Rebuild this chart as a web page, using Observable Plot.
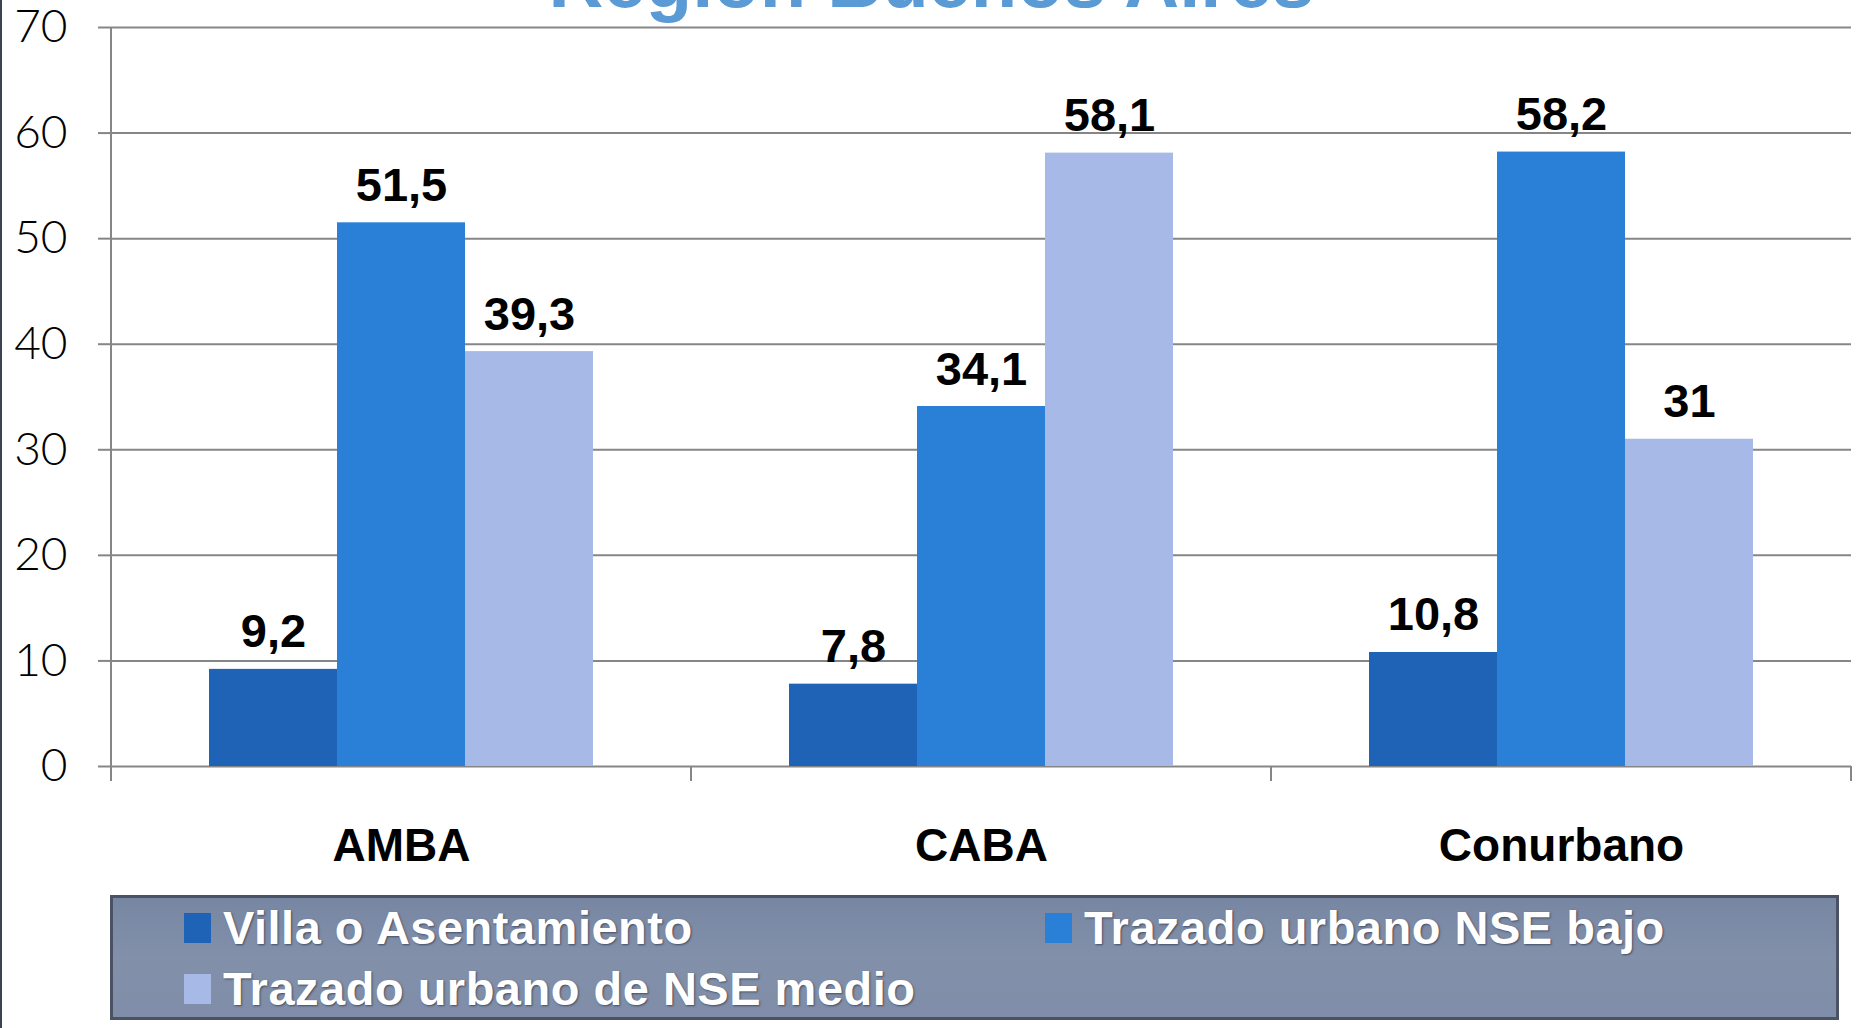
<!DOCTYPE html>
<html>
<head>
<meta charset="utf-8">
<script src="https://cdn.jsdelivr.net/npm/d3@7"></script>
<script src="https://cdn.jsdelivr.net/npm/@observablehq/plot@0.6"></script>
<style>
  html, body { margin: 0; padding: 0; background: #fff; width: 1863px; height: 1028px; overflow: hidden; }
  body { position: relative; }
  #edge { position: absolute; left: 0; top: 0; width: 2px; height: 1028px; background: #3b4252; }
  #title { position: absolute; left: 0; top: -57px; width: 1863px; text-align: center;
           font: bold 76px "Liberation Sans", Arial, sans-serif; line-height: 76px; color: #5b9bd5; white-space: nowrap; }
  #chart { position: absolute; left: 0; top: 0; }
  #chart svg { overflow: visible; }
  #legend { position: absolute; left: 110px; top: 895px; width: 1723px; height: 119px;
            border: 3px solid #4b5263; background: linear-gradient(#7786a2, #8290aa 50%, #7f8da8); }
  .item { position: absolute; display: flex; align-items: center; gap: 12px; }
  .sw { width: 27px; height: 30px; }
  .lab { font: bold 47px "Liberation Sans", Arial, sans-serif; line-height: 47px; color: #fff;
         letter-spacing: 0.5px; text-shadow: 1px 1px 2px rgba(30,35,50,0.6); white-space: nowrap; }
</style>
</head>
<body>
<div id="edge"></div>
<div id="title"></div>
<div id="chart"></div>
<div id="legend"></div>
<script>
// ---- data ----
const titleText = "Región Buenos Aires";
const categories = ["AMBA", "CABA", "Conurbano"];
const series = ["Villa o Asentamiento", "Trazado urbano NSE bajo", "Trazado urbano de NSE medio"];
const villa = [9.2, 7.8, 10.8];
const nseBajo = [51.5, 34.1, 58.2];
const nseMedio = [39.3, 58.1, 31];
const yTicks = [0, 10, 20, 30, 40, 50, 60, 70];

// ---- styles ----
const colors = ["#1f63b6", "#2a7fd6", "#a6b9e7"];
const gridColor = "#868686";
const legendPos = [
  {left: 71, top: 6},
  {left: 932, top: 6},
  {left: 71, top: 67}
];

document.getElementById("title").textContent = titleText;

const values = [villa, nseBajo, nseMedio];
const rows = [];
categories.forEach((c, i) => series.forEach((s, j) => rows.push({cat: c, series: s, value: values[j][i]})));
const edgeData = categories.map(c => ({cat: c}));
const fmt = v => String(v).replace(".", ",");

const edges = Plot.ruleY(edgeData, {
  fx: "cat",
  y: () => 0,
  render(index, scales, vals, dimensions, context) {
    const x = scales.x, y = scales.y;
    let x0, x1;
    if (typeof x.range === "function") { [x0, x1] = x.range(); }
    else { x0 = dimensions.marginLeft; x1 = dimensions.width - dimensions.marginRight; }
    const yb = y(0), ye = yb + 15;
    const g = d3.create("svg:g").attr("stroke", gridColor).attr("stroke-width", 2);
    if (index.length && edgeData[index[0]].cat === categories[0]) {
      g.append("line").attr("x1", x0).attr("x2", x0).attr("y1", y(yTicks[yTicks.length - 1])).attr("y2", ye);
    }
    g.append("line").attr("x1", x1).attr("x2", x1).attr("y1", yb).attr("y2", ye);
    return g.node();
  }
});

const chart = Plot.plot({
  width: 1863,
  height: 890,
  marginLeft: 110,
  marginRight: 12,
  marginTop: 27,
  marginBottom: 124,
  fx: {domain: categories, padding: 0, axis: null, label: null},
  x: {domain: series, paddingInner: 0, paddingOuter: 0.75, axis: null},
  y: {domain: [0, 70], axis: null},
  color: {domain: series, range: colors},
  marks: [
    Plot.gridY({ticks: yTicks, stroke: gridColor, strokeOpacity: 1, strokeWidth: 2}),
    Plot.barY(rows, {fx: "cat", x: "series", y: "value", fill: "series", inset: 0}),
    Plot.text(rows, {fx: "cat", x: "series", y: "value", text: d => fmt(d.value), dy: -22,
      lineAnchor: "bottom", fontSize: 47, fontWeight: "bold", fontFamily: "Liberation Sans, Arial, sans-serif", fill: "#000"}),
    Plot.axisY({ticks: yTicks, tickSize: 13, tickPadding: 31, stroke: gridColor, strokeWidth: 2, strokeOpacity: 1,
      fontSize: 46, fontFamily: "Lato, sans-serif", fontWeight: 300, fill: "#000", label: null}),
    Plot.axisFx({anchor: "bottom", tickSize: 0, tickPadding: 62, fontSize: 46, fontWeight: "bold",
      fontFamily: "Liberation Sans, Arial, sans-serif", fill: "#000", label: null}),
    edges
  ]
});
document.getElementById("chart").appendChild(chart);

const legend = d3.select("#legend");
series.forEach((s, j) => {
  const it = legend.append("div").attr("class", "item")
    .style("left", legendPos[j].left + "px").style("top", legendPos[j].top + "px");
  it.append("div").attr("class", "sw").style("background", colors[j]);
  it.append("span").attr("class", "lab").text(s);
});
</script>
</body>
</html>
